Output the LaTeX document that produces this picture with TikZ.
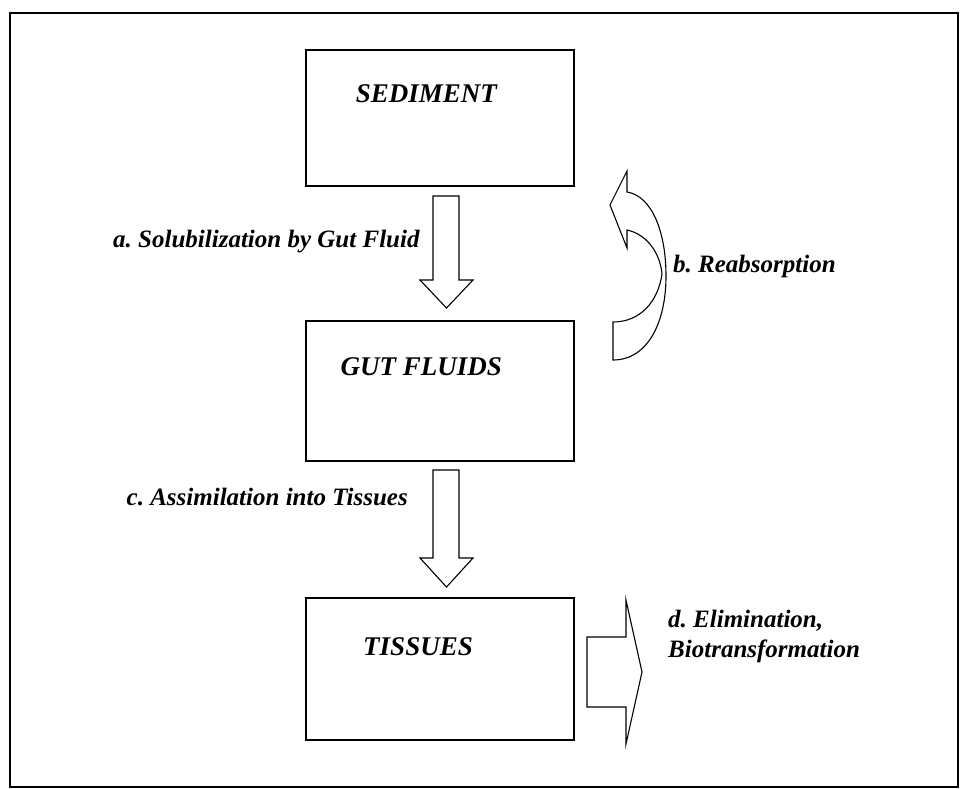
\documentclass[tikz,border=0pt]{standalone}
\usepackage{fontspec}
\setmainfont{Liberation Serif}
\usepackage{tikz}
\usetikzlibrary{positioning, calc}

\tikzset{
  stagebox/.style={draw, line width=1.3pt, minimum width=268pt, inner sep=0pt},
  stagetxt/.style={font=\bfseries\itshape\fontsize{27}{32}\selectfont, inner sep=0pt, anchor=base east},
  steptxt/.style={font=\bfseries\itshape\fontsize{25}{30}\selectfont, inner sep=0pt, anchor=base west, align=left},
  blockarrow/.style={draw, line width=1.1pt, line join=miter, fill=white}
}

\begin{document}
\frenchspacing
\begin{tikzpicture}[x=1pt, y=-1pt]
    \useasboundingbox (0,0) rectangle (964,789);
    % outer frame
    \draw[line width=2.6pt] (10,13) rectangle (958,787);

    % stage boxes
    \node[stagebox, minimum height=136pt] (sediment) at (440,118) {};
    \node[stagebox, minimum height=140pt] (gut) at (440,391) {};
    \node[stagebox, minimum height=142pt] (tissues) at (440,669) {};
    \node[stagetxt] (sedimentlbl) at (497,103) {SEDIMENT};
    \node[stagetxt] (gutlbl) at (502,375) {GUT FLUIDS};
    \node[stagetxt] (tissueslbl) at (473,655) {TISSUES};

    % down arrows a and c
    \foreach \top/\neck/\tip in {196/280/308, 470/558/587} {
        \draw[blockarrow] (433,\top) -- (459,\top) -- (459,\neck) -- (473,\neck)
            -- (446.5,\tip) -- (420,\neck) -- (433,\neck) -- cycle;
    }

    % curved arrow b
    \draw[blockarrow] (613,360) .. controls (648,360) and (666,322) .. (666,276)
        .. controls (666,232) and (652,196) .. (627,192)
        -- (627,171) -- (610,205) -- (627,248) -- (627,230)
        .. controls (646,234) and (660,252) .. (662,274)
        .. controls (658,302) and (640,322) .. (613,322) -- cycle;

    % side arrow d
    \draw[blockarrow] (587,637) -- (626,637) -- (626,600) -- (642,672)
        -- (626,744) -- (626,707) -- (587,707) -- cycle;

    % step labels
    \node[steptxt] (solub) at (113,247) {a. Solubilization by Gut Fluid};
    \node[steptxt] (reabs) at (673,272) {b. Reabsorption};
    \node[steptxt, anchor=base east] (assim) at (408,505) {c. Assimilation into Tissues};
    \node[steptxt] (elim) at (668,657) {d. Elimination,\\Biotransformation};
\end{tikzpicture}
\end{document}
